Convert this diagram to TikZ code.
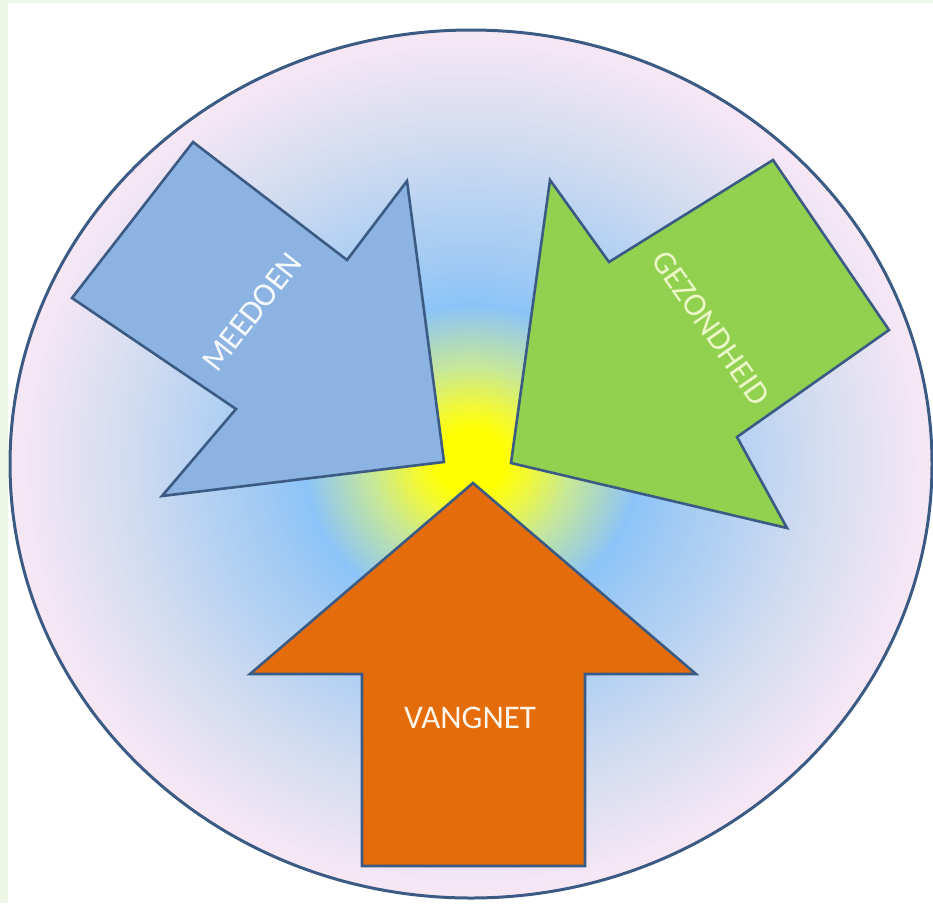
\documentclass[tikz,border=0pt]{standalone}
\usepackage{fontspec}
\setmainfont{Carlito}
\definecolor{framegreen}{HTML}{EEF7E6}
\definecolor{outl}{HTML}{3B5B84}
\definecolor{arrblue}{HTML}{8DB3E2}
\definecolor{arrgreen}{HTML}{92D050}
\definecolor{arrorange}{HTML}{E46C0A}
\definecolor{gy}{HTML}{FFFF00}
\definecolor{gy2}{HTML}{F4FA30}
\definecolor{gg}{HTML}{C6E79A}
\definecolor{gb}{HTML}{8CC4F8}
\definecolor{gb2}{HTML}{A4CBF3}
\definecolor{gl}{HTML}{D4DDF0}
\definecolor{gp}{HTML}{FBE8F6}
\pgfdeclareradialshading{glow}{\pgfpoint{0bp}{0.2bp}}{%
color(0bp)=(gy); color(1.8bp)=(gy); color(3bp)=(gy2); color(5.5bp)=(gg);
color(9bp)=(gb); color(12bp)=(gb2); color(19bp)=(gl); color(25.5bp)=(gp); color(36bp)=(gp)}
\tikzset{
  arrowshape/.style={draw=outl, line width=2.6pt, line join=miter},
  lbl/.style={text=#1, font=\fontsize{33}{33}\selectfont, inner sep=0pt}
}
\begin{document}
\begin{tikzpicture}[x=1pt,y=-1pt]
\useasboundingbox (0,0) rectangle (933,903);
\fill[framegreen] (0,0) rectangle (933,903);
\fill[white] (8,3) rectangle (933,903);
% big ellipse with radial glow
\shade[shading=glow, draw=outl, line width=3pt] (471,464) ellipse [x radius=461, y radius=434];
% blue arrow
\draw[arrowshape, fill=arrblue] (193,142) -- (347,260) -- (407,181) -- (444,462) -- (162,496) -- (236,409) -- (72,298) -- cycle;
% green arrow
\draw[arrowshape, fill=arrgreen] (773,160) -- (889,330) -- (737,437) -- (787,528) -- (511,463) -- (550,180) -- (609,262) -- cycle;
% orange arrow
\draw[arrowshape, fill=arrorange] (473,483) -- (696,674) -- (585,674) -- (585,866) -- (362,866) -- (362,674) -- (250,674) -- cycle;
\node[lbl={white!92!arrblue}, rotate=52] (meedoen) at (252,312) {MEEDOEN};
\node[lbl={white!80!arrgreen!90!yellow}, rotate=-55] (gezondheid) at (711,328) {GEZONDHEID};
\node[lbl={white!92!orange}] (vangnet) at (470,718) {VANGNET};
\end{tikzpicture}
\end{document}
